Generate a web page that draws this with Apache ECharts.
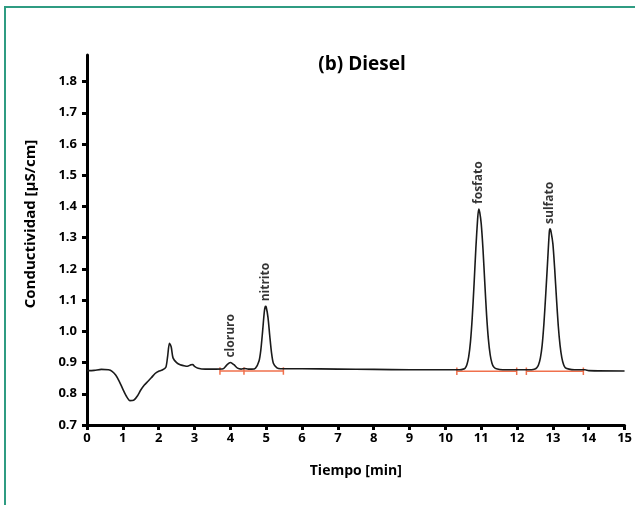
<!DOCTYPE html>
<html>
<head>
<meta charset="utf-8">
<script src="https://cdn.jsdelivr.net/npm/echarts@6/dist/echarts.min.js"></script>
<style>
html,body{margin:0;padding:0;background:#fff;}
#chart{width:635px;height:505px;}
</style>
</head>
<body>
<div id="chart"></div>
<script>
// ---- data ----
var titleText = '(b) Diesel';
var xName = 'Tiempo [min]';
var yName = 'Conductividad [\u00b5S/cm]';
var yTicks = [0.7, 0.8, 0.9, 1.0, 1.1, 1.2, 1.3, 1.4, 1.5, 1.6, 1.7, 1.8];

var time = [0.0, 0.2, 0.4, 0.6, 0.7, 0.8, 0.9, 1.0, 1.1, 1.2, 1.3, 1.4, 1.5, 1.6, 1.7, 1.8, 1.9, 2.0, 2.1, 2.2,
  2.25, 2.3, 2.35, 2.4, 2.5, 2.6, 2.7, 2.8, 2.9, 2.95, 3.0, 3.1, 3.3, 3.6,
  3.8, 3.9, 4.0, 4.1, 4.2, 4.3, 4.4, 4.5,
  4.6, 4.7, 4.8, 4.85, 4.9, 4.95, 4.98, 5.0, 5.05, 5.1, 5.15, 5.2, 5.3, 5.4, 5.5,
  6.0, 7.0, 8.0, 9.0, 10.0, 10.4,
  10.5, 10.55, 10.6, 10.65, 10.7, 10.75, 10.8, 10.85, 10.9, 10.93, 10.96, 11.0, 11.05, 11.1, 11.15, 11.2, 11.25, 11.3, 11.35, 11.45, 11.6,
  12.4, 12.5, 12.55, 12.6, 12.65, 12.7, 12.75, 12.8, 12.85, 12.9, 12.92, 12.95, 13.0, 13.05, 13.1, 13.15, 13.2, 13.25, 13.3, 13.35, 13.45, 13.6,
  13.9, 14.0, 15.0];
var signal = [0.874, 0.875, 0.878, 0.877, 0.872, 0.860, 0.840, 0.815, 0.792, 0.778, 0.779, 0.792, 0.812, 0.828, 0.840, 0.852, 0.865, 0.872, 0.876, 0.885,
  0.920, 0.962, 0.950, 0.915, 0.900, 0.893, 0.890, 0.888, 0.893, 0.894, 0.888, 0.882, 0.879, 0.879,
  0.880, 0.892, 0.900, 0.893, 0.882, 0.879, 0.881, 0.879,
  0.879, 0.882, 0.905, 0.940, 1.000, 1.065, 1.080, 1.078, 1.045, 0.985, 0.930, 0.898, 0.883, 0.880, 0.880,
  0.880, 0.879, 0.878, 0.877, 0.877, 0.877,
  0.879, 0.882, 0.893, 0.918, 0.966, 1.045, 1.150, 1.265, 1.360, 1.392, 1.380, 1.345, 1.262, 1.155, 1.052, 0.975, 0.925, 0.898, 0.886, 0.879, 0.877,
  0.877, 0.879, 0.883, 0.893, 0.914, 0.955, 1.025, 1.118, 1.218, 1.318, 1.328, 1.318, 1.280, 1.200, 1.105, 1.018, 0.955, 0.915, 0.893, 0.883, 0.879, 0.877,
  0.877, 0.874, 0.873];

// integration baselines (start, end, level)
var baseStart = [3.71, 4.38, 10.32, 12.26];
var baseEnd   = [4.38, 5.48, 11.99, 13.85];
var baseLevel = [0.873, 0.873, 0.872, 0.872];

// peak labels
var peakNames = ['cloruro', 'nitrito', 'fosfato', 'sulfato'];
var peakTime  = [4.0, 4.98, 10.93, 12.92];
var peakValue = [0.900, 1.080, 1.392, 1.328];

// ---- build ----
var traceData = time.map(function (t, i) { return [t, signal[i]]; });
var baseData = [];
var tk = 0.012;
for (var i = 0; i < baseStart.length; i++) {
  var lv = baseLevel[i];
  baseData.push([baseStart[i], lv], [baseEnd[i], lv], null);
  baseData.push([baseStart[i], lv - tk], [baseStart[i], lv + tk], null);
  baseData.push([baseEnd[i], lv - tk], [baseEnd[i], lv + tk], null);
}
var labelData = peakTime.map(function (t, i) { return { value: [t, peakValue[i]], name: peakNames[i] }; });

var FONT = '"Open Sans", "DejaVu Sans", sans-serif';
var chart = echarts.init(document.getElementById('chart'), null, { renderer: 'canvas' });
chart.setOption({
  backgroundColor: '#ffffff',
  animation: false,
  title: {
    text: titleText, left: 357, top: 50, textAlign: 'center',
    textStyle: { fontFamily: FONT, fontWeight: 'bold', fontSize: 19, color: '#000' }
  },
  grid: { left: 87, right: 10, top: 55, bottom: 80, containLabel: false },
  xAxis: {
    type: 'value', min: 0, max: 15, interval: 1,
    name: xName, nameLocation: 'middle', nameGap: 39,
    nameTextStyle: { fontFamily: FONT, fontWeight: 'bold', fontSize: 14, color: '#000' },
    axisLine: { show: true, lineStyle: { color: '#000', width: 3 } },
    axisTick: { show: true, length: 5, lineStyle: { color: '#000', width: 3 } },
    axisLabel: { fontFamily: FONT, fontWeight: 'bold', fontSize: 13, color: '#000', margin: 7 },
    splitLine: { show: false }
  },
  yAxis: {
    type: 'value', min: 0.7, max: 1.885,
    axisLine: { show: true, lineStyle: { color: '#000', width: 3 } },
    axisTick: { show: true, length: 5, lineStyle: { color: '#000', width: 3 }, customValues: yTicks },
    axisLabel: {
      customValues: yTicks, fontFamily: FONT, fontWeight: 'bold', fontSize: 13, color: '#000', margin: 10,
      formatter: function (v) { return v.toFixed(1); }
    },
    splitLine: { show: false }
  },
  graphic: [
    { type: 'polyline', shape: { points: [[5, 505], [5, 7], [635, 7]] }, style: { stroke: '#2f9c82', lineWidth: 2, fill: null } },
    { type: 'text', x: 31, y: 224, rotation: Math.PI / 2,
      style: { text: yName, font: 'bold 15px ' + FONT, fill: '#000', textAlign: 'center', textVerticalAlign: 'middle' } }
  ],
  series: [
    {
      type: 'line', data: baseData, symbol: 'none', connectNulls: false,
      lineStyle: { color: '#f0704c', width: 1.5 }, z: 2, silent: true
    },
    {
      type: 'line', data: traceData, symbol: 'none', smooth: 0.25,
      lineStyle: { color: '#1a1a1a', width: 1.6 }, z: 3, silent: true
    },
    {
      type: 'scatter', data: labelData, symbolSize: 0, silent: true, z: 4,
      label: {
        show: true, position: 'top', distance: 5, rotate: 90, align: 'left', verticalAlign: 'middle',
        formatter: function (p) { return p.name; },
        fontFamily: FONT, fontWeight: 'bold', fontSize: 12, color: '#000'
      }
    }
  ]
});
</script>
</body>
</html>
